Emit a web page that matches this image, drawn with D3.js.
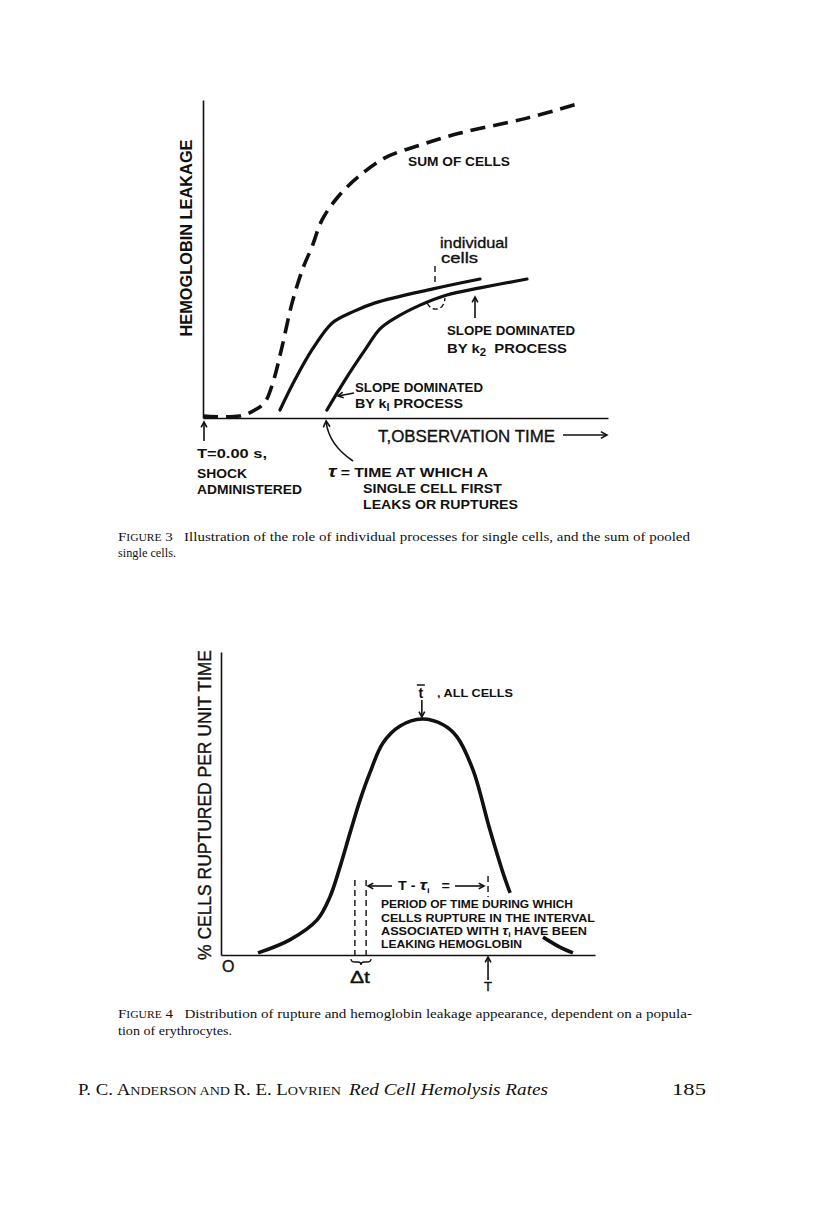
<!DOCTYPE html>
<html>
<head>
<meta charset="utf-8">
<script src="https://cdn.jsdelivr.net/npm/d3@7"></script>
<style>
	body { margin: 0; background: #fff; }
	svg { display: block; background: #fff; }
	.lbl { font-family: "Liberation Sans", Arial, sans-serif; font-weight: bold; fill: #111; }
	.reg { font-family: "Liberation Sans", Arial, sans-serif; fill: #111; stroke: #111; stroke-width: 0.35; }
	.cap { font-family: "Liberation Serif", "Times New Roman", serif; fill: #111; }
</style>
</head>
<body>
<svg></svg>
<script>
// data (both axes in arbitrary units 0-100).............

// figure 3 : hemoglobin leakage against observation time
var sumX   = [0, 9, 12.8, 15.3, 17.3, 19.5, 22, 24.7, 26.9, 29.4, 33.3, 38.3, 44.9, 53.6, 63.5, 80, 93.1],
	sumY   = [0.6, 0.6, 2.5, 5, 11.3, 22.3, 36.2, 47.2, 53.8, 62.3, 69.5, 75.8, 81.8, 85.8, 89.6, 94.3, 99];
var cellAX = [19, 22.7, 26.9, 31.9, 36.8, 42.5, 56.8, 68.4],
	cellAY = [2.5, 12, 21.4, 29.9, 33.3, 36.2, 40.6, 43.7];
var cellBX = [30.6, 35.1, 40, 43.7, 47.4, 53.6, 60.2, 68.4, 80],
	cellBY = [2.5, 12, 21.4, 28, 31.4, 35.5, 38.7, 40.9, 43.7];
var tauX = 30.4;     // first leak of a single cell

// figure 4 : % cells ruptured per unit time (null = break in the line)
var ruptX = [9.9, 18.4, 25.7, 29.1, 31.8, 34.5, 37.2, 39.8, 43.3, 47.9, 53.7, 59.4, 63.1, 67.4, 71.9, 75.4, 77.3, 80, 86.1, 90.6, 94.1],
	ruptY = [0.7, 5, 11.6, 19.1, 29, 40.3, 51.2, 60.1, 70, 75.6, 77.9, 76, 72, 61, 41.3, 27.1, 20.5, null, 5.9, 2.6, 0.7];
var tBarX  = 53.7,            // mean time, all cells
	deltaT = [35.8, 38.8],    // interval tau_i
	obsT   = 71.4;            // observation time T

// setup..........................................................................

var svg = d3.select("svg").attr("width", 816).attr("height", 1221);

var x3 = d3.scaleLinear().domain([0, 100]).range([203, 608]),
	y3 = d3.scaleLinear().domain([0, 100]).range([418, 100]),
	x4 = d3.scaleLinear().domain([0, 100]).range([221, 595]),
	y4 = d3.scaleLinear().domain([0, 100]).range([955, 652]);

function zip(xs, ys) {
	return xs.map(function(d, i) { return [d, ys[i]]; });
}

function txt(g, x, y, s, size, cls, len, anchor) {
	var t = g.append("text")
		.attr("class", cls || "lbl")
		.attr("x", x).attr("y", y)
		.attr("font-size", size)
		.text(s);
	if(len) t.attr("textLength", len).attr("lengthAdjust", "spacingAndGlyphs");
	if(anchor) t.attr("text-anchor", anchor);
	return t;
}

// open "V" arrow head at (x2,y2), coming from (x1,y1)
function head(g, x1, y1, x2, y2, h) {
	var a = Math.atan2(y2 - y1, x2 - x1), w = 0.5;
	h = h || 6;
	g.append("path")
		.attr("d", "M" + (x2 - h * Math.cos(a - w)) + "," + (y2 - h * Math.sin(a - w)) +
			"L" + x2 + "," + y2 +
			"L" + (x2 - h * Math.cos(a + w)) + "," + (y2 - h * Math.sin(a + w)))
		.attr("fill", "none").attr("stroke", "#111").attr("stroke-width", 1.6);
}

function arrow(g, x1, y1, x2, y2, h) {
	g.append("line")
		.attr("x1", x1).attr("y1", y1).attr("x2", x2).attr("y2", y2)
		.attr("stroke", "#111").attr("stroke-width", 1.6);
	head(g, x1, y1, x2, y2, h);
}

function vdash(g, x, ya, yb) {
	g.append("line")
		.attr("x1", x).attr("x2", x).attr("y1", ya).attr("y2", yb)
		.attr("stroke", "#111").attr("stroke-width", 1.4)
		.attr("stroke-dasharray", "6,4");
}

// figure 3.......................................................................

var f3 = svg.append("g");

f3.append("g").attr("transform", "translate(0,418)")
	.call(d3.axisBottom(x3).tickValues([]).tickSizeOuter(0));
f3.append("g").attr("transform", "translate(203,0)")
	.call(d3.axisLeft(y3).tickValues([]).tickSizeOuter(0));
f3.selectAll(".domain").attr("stroke", "#111").attr("stroke-width", 1.6);

var line3 = d3.line()
	.x(function(d) { return x3(d[0]); })
	.y(function(d) { return y3(d[1]); })
	.curve(d3.curveCatmullRom.alpha(0.5));

f3.append("path").datum(zip(sumX, sumY))
	.attr("d", line3).attr("fill", "none")
	.attr("stroke", "#111").attr("stroke-width", 3.6)
	.attr("stroke-dasharray", "15,8");
[zip(cellAX, cellAY), zip(cellBX, cellBY)].forEach(function(c) {
	f3.append("path").datum(c)
		.attr("d", line3).attr("fill", "none")
		.attr("stroke", "#111").attr("stroke-width", 3.2)
		.attr("stroke-linecap", "round");
});

// labels
txt(f3, 192, 238, "HEMOGLOBIN LEAKAGE", 16, "lbl", 197, "middle")
	.attr("transform", "rotate(-90,192,238)");
txt(f3, 408, 166, "SUM OF CELLS", 12, "lbl", 102);
txt(f3, 440, 248, "individual", 15, "reg", 68);
txt(f3, 441, 263, "cells", 15, "reg", 37);
vdash(f3, 435, 266, 284);
f3.append("path")
	.attr("d", "M427,303 Q431,310 437,309 Q444,308 445,298")
	.attr("fill", "none").attr("stroke", "#111").attr("stroke-width", 1.4)
	.attr("stroke-dasharray", "5,3");

arrow(f3, 475, 318, 475, 297);
txt(f3, 447, 335, "SLOPE DOMINATED", 13, "lbl", 128);
var k2 = txt(f3, 447, 353, "BY k", 13, "lbl");
k2.append("tspan").attr("dy", 3).attr("font-size", 10).text("2");
k2.append("tspan").attr("dy", -3).text("\u00a0 PROCESS");
k2.attr("textLength", 120).attr("lengthAdjust", "spacingAndGlyphs");

arrow(f3, 354, 393, 338, 396);
txt(f3, 355, 392, "SLOPE DOMINATED", 13, "lbl", 128);
var k1 = txt(f3, 355, 408, "BY k", 13, "lbl");
k1.append("tspan").attr("dy", 3).attr("font-size", 10).text("l");
k1.append("tspan").attr("dy", -3).text(" PROCESS");
k1.attr("textLength", 108).attr("lengthAdjust", "spacingAndGlyphs");

txt(f3, 378, 442, "T,OBSERVATION TIME", 17, "reg", 177);
arrow(f3, 563, 435, 607, 435, 7);

arrow(f3, x3(0) + 1, 441, x3(0) + 1, 422);
txt(f3, 197, 458, "T=0.00 s,", 13, "lbl", 70);
txt(f3, 197, 478, "SHOCK", 13, "lbl", 50);
txt(f3, 197, 494, "ADMINISTERED", 13, "lbl", 105);

f3.append("path")
	.attr("d", "M353,461 Q329,445 " + x3(tauX) + ",422")
	.attr("fill", "none").attr("stroke", "#111").attr("stroke-width", 1.6);
head(f3, x3(tauX) + 1, 432, x3(tauX), 421, 7);
var tau = txt(f3, 328, 477, "", 13, "lbl");
tau.append("tspan").attr("font-style", "italic").attr("font-size", 17).text("\u03c4");
tau.append("tspan").text(" = TIME AT WHICH A");
tau.attr("textLength", 160).attr("lengthAdjust", "spacingAndGlyphs");
txt(f3, 363, 493, "SINGLE CELL FIRST", 13, "lbl", 139);
txt(f3, 363, 509, "LEAKS OR RUPTURES", 13, "lbl", 155);

// caption
var c3 = txt(svg, 118, 541, "", 13, "cap");
c3.append("tspan").text("F");
c3.append("tspan").attr("font-size", 10).text("IGURE");
c3.append("tspan").text(" 3\u00a0\u00a0 Illustration of the role of individual processes for single cells, and the sum of pooled");
c3.attr("textLength", 572).attr("lengthAdjust", "spacingAndGlyphs");
txt(svg, 118, 557, "single cells.", 13, "cap", 58);

// figure 4.......................................................................

var f4 = svg.append("g");

f4.append("g").attr("transform", "translate(0,955)")
	.call(d3.axisBottom(x4).tickValues([]).tickSizeOuter(0));
f4.append("g").attr("transform", "translate(221,0)")
	.call(d3.axisLeft(y4).tickValues([]).tickSizeOuter(0));
f4.selectAll(".domain").attr("stroke", "#111").attr("stroke-width", 1.6);

var line4 = d3.line()
	.defined(function(d) { return d[1] != null; })
	.x(function(d) { return x4(d[0]); })
	.y(function(d) { return y4(d[1]); })
	.curve(d3.curveCatmullRom.alpha(0.5));

f4.append("path").datum(zip(ruptX, ruptY))
	.attr("d", line4).attr("fill", "none")
	.attr("stroke", "#111").attr("stroke-width", 3.6);

txt(f4, 211, 805, "% CELLS  RUPTURED  PER  UNIT  TIME", 18, "reg", 310, "middle")
	.attr("transform", "rotate(-90,211,805)");
txt(f4, 222, 972, "O", 16, "reg");

// t bar, all cells
txt(f4, x4(tBarX) - 1, 698, "t", 14, "lbl", null, "middle");
f4.append("line").attr("x1", x4(tBarX) - 5).attr("x2", x4(tBarX) + 3)
	.attr("y1", 685).attr("y2", 685).attr("stroke", "#111").attr("stroke-width", 1.5);
txt(f4, 437, 697, ", ALL CELLS", 11, "lbl", 76);
arrow(f4, x4(tBarX), 700, x4(tBarX), 717);

// interval markers
vdash(f4, x4(deltaT[0]), 880, 955);
vdash(f4, x4(deltaT[1]), 880, 955);
vdash(f4, x4(obsT), 876, 897);
f4.append("path")
	.attr("d", "M351,959 q0,3 4,3 h3 q3,0 3,3 q0,-3 3,-3 h3 q4,0 4,-3")
	.attr("fill", "none").attr("stroke", "#111").attr("stroke-width", 1.3);
txt(f4, 350, 983, "\u0394t", 16, "reg", 20);
arrow(f4, x4(obsT), 980, x4(obsT), 957);
txt(f4, x4(obsT), 991, "T", 13, "reg", null, "middle");

arrow(f4, 392, 886, 368, 886);
var tt = txt(f4, 398, 890, "T - ", 12, "lbl");
tt.append("tspan").attr("font-style", "italic").attr("font-size", 15).text("\u03c4");
tt.append("tspan").attr("dy", 3).attr("font-size", 8).text("i");
tt.append("tspan").attr("dy", -3).text("\u00a0\u00a0 =");
tt.attr("textLength", 52).attr("lengthAdjust", "spacingAndGlyphs");
arrow(f4, 455, 886, 484, 886);

txt(f4, 381, 908, "PERIOD OF TIME DURING WHICH", 11.5, "lbl", 192);
txt(f4, 381, 922, "CELLS RUPTURE IN THE INTERVAL", 11.5, "lbl", 214);
var as = txt(f4, 381, 935, "ASSOCIATED WITH ", 11.5, "lbl");
as.append("tspan").attr("font-style", "italic").attr("font-size", 13).text("\u03c4");
as.append("tspan").attr("dy", 2).attr("font-size", 8).text("i");
as.append("tspan").attr("dy", -2).text(" HAVE  BEEN");
as.attr("textLength", 206).attr("lengthAdjust", "spacingAndGlyphs");
txt(f4, 381, 948, "LEAKING HEMOGLOBIN", 11.5, "lbl", 141);

// caption
var c4 = txt(svg, 118, 1018, "", 13, "cap");
c4.append("tspan").text("F");
c4.append("tspan").attr("font-size", 10).text("IGURE");
c4.append("tspan").text(" 4\u00a0\u00a0 Distribution of rupture and hemoglobin leakage appearance, dependent on a popula-");
c4.attr("textLength", 574).attr("lengthAdjust", "spacingAndGlyphs");
txt(svg, 118, 1035, "tion of erythrocytes.", 13, "cap", 114);

// running footer
var ft = txt(svg, 78, 1095, "", 16, "cap");
ft.append("tspan").text("P. C. A");
ft.append("tspan").attr("font-size", 12).text("NDERSON AND ");
ft.append("tspan").text("R. E. L");
ft.append("tspan").attr("font-size", 12).text("OVRIEN");
ft.attr("textLength", 263).attr("lengthAdjust", "spacingAndGlyphs");
txt(svg, 349, 1095, "Red Cell Hemolysis Rates", 16, "cap", 199).attr("font-style", "italic");
txt(svg, 672, 1095, "185", 16, "cap", 34);
</script>
</body>
</html>
